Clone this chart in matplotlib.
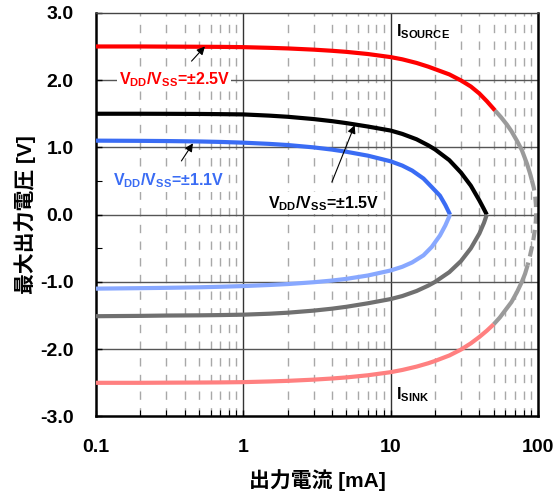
import matplotlib
matplotlib.use("Agg")
from matplotlib import pyplot as plt
from matplotlib.ticker import FixedLocator, NullFormatter
import numpy as np

plt.rcParams['font.family'] = ['Liberation Sans', 'Noto Sans CJK JP']
plt.rcParams['mathtext.fontset'] = 'custom'
plt.rcParams['mathtext.rm'] = 'Liberation Sans'
plt.rcParams['mathtext.bf'] = 'Liberation Sans:bold'

# source side, current in mA, voltage in V
src25_i = [0.1, 0.2, 0.3, 0.5, 0.7, 1, 1.5, 2, 3, 4, 5, 7, 10, 12, 15, 18, 20, 25, 30, 35, 40, 45, 51]
src25_v = [2.50, 2.50, 2.498, 2.496, 2.494, 2.49, 2.48, 2.471, 2.453, 2.436, 2.42, 2.388, 2.342,
           2.309, 2.255, 2.20, 2.163, 2.085, 1.995, 1.905, 1.80, 1.685, 1.55]
src15_i = [0.1, 0.2, 0.3, 0.5, 0.7, 1, 1.5, 2, 3, 4, 5, 7, 10, 12, 15, 18, 20, 25, 30, 35, 40, 43, 44.9]
src15_v = [1.50, 1.50, 1.499, 1.497, 1.494, 1.49, 1.472, 1.455, 1.421, 1.39, 1.361, 1.31, 1.25,
           1.20, 1.12, 1.03, 0.97, 0.81, 0.625, 0.43, 0.21, 0.08, 0.0]
src11_i = [0.1, 0.2, 0.3, 0.5, 0.7, 1, 1.5, 2, 3, 4, 5, 7, 10, 12, 14, 16.7, 19, 21.6, 23.5, 25.3]
src11_v = [1.10, 1.097, 1.094, 1.088, 1.081, 1.07, 1.052, 1.035, 1.0, 0.967, 0.935, 0.877, 0.793,
           0.729, 0.655, 0.537, 0.41, 0.282, 0.143, 0.0]

# sink side
snk25_i = [0.1, 0.2, 0.3, 0.5, 0.7, 1, 1.5, 2, 3, 4, 5, 7, 10, 12, 15, 18, 20, 25, 30, 35, 40, 45, 50]
snk25_v = [-2.50, -2.50, -2.498, -2.496, -2.494, -2.49, -2.48, -2.471, -2.453, -2.436, -2.42,
           -2.388, -2.342, -2.309, -2.259, -2.209, -2.175, -2.094, -2.006, -1.913, -1.818,
           -1.724, -1.63]
snk15_i = [0.1, 0.2, 0.3, 0.5, 0.7, 1, 1.5, 2, 3, 4, 5, 7, 10, 12, 15, 18, 20, 25, 30, 35, 40, 43, 44.9]
snk15_v = [-1.51, -1.505, -1.50, -1.497, -1.493, -1.487, -1.473, -1.458, -1.427, -1.398, -1.37,
           -1.318, -1.255, -1.21, -1.135, -1.055, -1.0, -0.855, -0.69, -0.50, -0.28, -0.12, 0.0]
snk11_i = [0.1, 0.2, 0.3, 0.5, 0.7, 1, 1.5, 2, 3, 4, 5, 7, 10, 12, 14, 16.7, 19, 21.6, 23.5, 25.3]
snk11_v = [-1.10, -1.093, -1.088, -1.08, -1.072, -1.062, -1.046, -1.032, -1.005, -0.98, -0.955,
           -0.905, -0.83, -0.775, -0.71, -0.605, -0.48, -0.31, -0.16, 0.0]

# grey continuation of the 2.5V curve (beyond rated range)
ext_i = [51, 56, 61.4, 66, 71.8, 77.6, 84, 88, 90.8, 93.5, 95.5, 96.7, 97, 96.5, 95.5, 94, 92.5,
         90.5, 88, 85, 81.6, 77.6, 72, 66, 60, 55, 50]
ext_v = [1.55, 1.45, 1.34, 1.24, 1.10, 0.96, 0.76, 0.62, 0.51, 0.40, 0.28, 0.15, 0.0, -0.1, -0.2,
         -0.3, -0.4, -0.5, -0.62, -0.75, -0.88, -1.0, -1.15, -1.30, -1.42, -1.53, -1.63]

fig = plt.figure(figsize=(5.57, 4.94), dpi=100)
ax = fig.add_axes([0.172, 0.157, 0.794, 0.817])
ax.set_xscale('log')
ax.set_xlim(0.1, 100)
ax.set_ylim(-3, 3)

# grid
minor_x = [m * 10.0**d for d in (-1, 0, 1) for m in range(2, 10)]
for xv in minor_x:
    ax.axvline(xv, color='#a8a8a8', lw=1.0, ls=(0, (6, 6)), zorder=1)
for xv in (1, 10):
    ax.axvline(xv, color='#333333', lw=1.0, zorder=1)
for yv in (-2, -1, 0, 1, 2):
    ax.axhline(yv, color='#555555', lw=1.0, zorder=1)

lw = 3.0
ax.plot(src25_i, src25_v, color='#ff0000', lw=lw, zorder=3, solid_capstyle='butt')
ax.plot(src15_i, src15_v, color='#000000', lw=lw, zorder=3, solid_capstyle='butt')
ax.plot(src11_i, src11_v, color='#3a6cf4', lw=lw, zorder=3, solid_capstyle='butt')
ax.plot(snk25_i, snk25_v, color='#ff8080', lw=lw, zorder=3, solid_capstyle='butt')
ax.plot(snk15_i, snk15_v, color='#707070', lw=lw, zorder=3, solid_capstyle='butt')
ax.plot(snk11_i, snk11_v, color='#88a8ff', lw=lw, zorder=3, solid_capstyle='butt')

ext_i = np.array(ext_i)
ext_v = np.array(ext_v)
top = ext_v >= 0.51
bot = ext_v <= -0.75
mid = (ext_v <= 0.51) & (ext_v >= -0.75)
ax.plot(ext_i[top], ext_v[top], color='#9a9a9a', lw=lw, zorder=2, solid_capstyle='butt')
ax.plot(ext_i[bot], ext_v[bot], color='#9a9a9a', lw=lw, zorder=2, solid_capstyle='butt')
ax.plot(ext_i[mid], ext_v[mid], color='#9a9a9a', lw=lw, zorder=2, ls=(0, (2.5, 1.5)))

# annotations
box = dict(facecolor='white', edgecolor='none', pad=1)
arrow = dict(arrowstyle='-|>', color='black', lw=0.8, shrinkA=8, shrinkB=0, mutation_scale=12)
ax.annotate('V$_{\\mathbf{DD}}$/V$_{\\mathbf{SS}}$=±2.5V', xy=(0.55, 2.5), xytext=(0.34, 2.0),
            color='#ff0000', fontsize=11.5, fontweight='bold', ha='center', va='center', bbox=box,
            arrowprops=arrow, zorder=4)
ax.annotate('V$_{\\mathbf{DD}}$/V$_{\\mathbf{SS}}$=±1.1V', xy=(0.456, 1.06), xytext=(0.31, 0.5),
            color='#3a6cf4', fontsize=11.5, fontweight='bold', ha='center', va='center', bbox=box,
            arrowprops=arrow, zorder=4)
ax.annotate('V$_{\\mathbf{DD}}$/V$_{\\mathbf{SS}}$=±1.5V', xy=(5.7, 1.33), xytext=(3.5, 0.17),
            color='black', fontsize=11.5, fontweight='bold', ha='center', va='center', bbox=box,
            arrowprops=arrow, zorder=4)
ax.text(10.8, 2.72, 'I$_{\\mathbf{SOURCE}}$', fontsize=11.5, fontweight='bold', va='center', zorder=4)
ax.text(10.8, -2.68, 'I$_{\\mathbf{SINK}}$', fontsize=11.5, fontweight='bold', va='center', zorder=4)

# ticks
ax.set_xticks([0.1, 1, 10, 100])
ax.set_xticklabels(['0.1', '1', '10', '100'])
ax.xaxis.set_minor_locator(FixedLocator(minor_x))
ax.xaxis.set_minor_formatter(NullFormatter())
ax.set_yticks([-3, -2, -1, 0, 1, 2, 3])
ax.set_yticklabels(['%.1f' % v for v in [-3, -2, -1, 0, 1, 2, 3]])
ax.yaxis.set_minor_locator(FixedLocator([-2.5, -1.5, -0.5, 0.5, 1.5, 2.5]))
ax.tick_params(axis='both', which='both', direction='in', colors='black')
ax.tick_params(axis='both', which='major', length=4, width=1.0, labelsize=14, pad=16)
ax.tick_params(axis='both', which='minor', length=4, width=0.8)
for lab in ax.get_xticklabels() + ax.get_yticklabels():
    lab.set_fontweight('bold')

for side in ('left', 'bottom', 'right'):
    ax.spines[side].set_linewidth(1.8)
ax.spines['top'].set_linewidth(1.0)
ax.spines['top'].set_color('#444444')

ax.set_xlabel('出力電流 [mA]', fontsize=15, fontweight='bold', va='center')
ax.set_ylabel('最大出力電圧 [V]', fontsize=15, fontweight='bold', va='center')
ax.xaxis.set_label_coords(0.5, -0.157)
ax.yaxis.set_label_coords(-0.161, 0.5)

plt.savefig('out.png', dpi=100)
